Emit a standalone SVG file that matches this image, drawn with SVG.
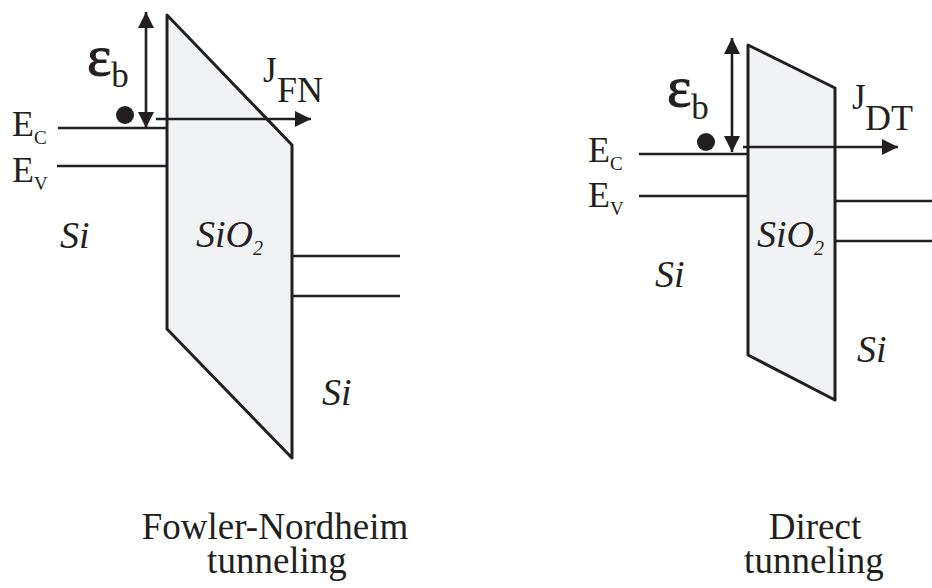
<svg xmlns="http://www.w3.org/2000/svg" width="932" height="588" viewBox="0 0 932 588">
<style>
.ox{fill:#f1f2f4;stroke:#231f20;stroke-width:3;stroke-linejoin:round}
.ln{stroke:#231f20;stroke-width:2.6;fill:none}
.t{font-family:"Liberation Serif","Times New Roman",serif;fill:#231f20}
.it{font-style:italic}
.eps{stroke:#231f20;stroke-width:1}
</style>
<defs>
<marker id="ah" viewBox="0 0 16 16" refX="16" refY="8" markerWidth="16" markerHeight="16" markerUnits="userSpaceOnUse" orient="auto-start-reverse">
<path d="M0,0 L16,8 L0,16 Z" fill="#231f20"/>
</marker>
</defs>
<g id="fn-diagram">
<g id="fn-oxide"><polygon class="ox" points="167,15 292,145 292,458 167,329"/></g>
<g id="fn-bands">
<line class="ln" x1="58" y1="128" x2="167" y2="128"/>
<line class="ln" x1="57" y1="166" x2="167" y2="166"/>
<line class="ln" x1="292" y1="256" x2="400" y2="256"/>
<line class="ln" x1="292" y1="296" x2="400" y2="296"/>
</g>
<g id="fn-electron"><circle cx="125" cy="115" r="9" fill="#231f20"/></g>
<g id="fn-labels">
<text class="t" x="12" y="136" font-size="36">E<tspan font-size="19" dy="8">C</tspan></text>
<text class="t" x="12" y="182" font-size="36">E<tspan font-size="19" dy="8">V</tspan></text>
<text class="t" x="87" y="75" font-size="58"><tspan class="eps">ε</tspan><tspan font-size="35" dy="12">b</tspan></text>
<text class="t" x="263" y="82" font-size="35">J</text>
<text class="t" x="277" y="102" font-size="36">FN</text>
<text class="t it" x="60" y="248" font-size="38">Si</text>
<text class="t it" x="196" y="247" font-size="38">SiO<tspan font-size="20" dy="8">2</tspan></text>
<text class="t it" x="322" y="405" font-size="38">Si</text>
<text class="t" font-size="37" text-anchor="middle"><tspan x="275" y="539">Fowler-Nordheim</tspan><tspan x="277" y="573">tunneling</tspan></text>
</g>
</g>
<g id="dt-diagram">
<g id="dt-oxide"><polygon class="ox" points="748,45 835,88 835,400 748,355"/></g>
<g id="dt-bands">
<line class="ln" x1="639" y1="154" x2="748" y2="154"/>
<line class="ln" x1="639" y1="196" x2="748" y2="196"/>
<line class="ln" x1="835" y1="201" x2="932" y2="201"/>
<line class="ln" x1="835" y1="241" x2="932" y2="241"/>
</g>
<g id="dt-electron"><circle cx="706" cy="142" r="9" fill="#231f20"/></g>
<g id="dt-labels">
<text class="t" x="588" y="162" font-size="36">E<tspan font-size="19" dy="8">C</tspan></text>
<text class="t" x="588" y="207" font-size="36">E<tspan font-size="19" dy="8">V</tspan></text>
<text class="t" x="667" y="106" font-size="58"><tspan class="eps">ε</tspan><tspan font-size="35" dy="13">b</tspan></text>
<text class="t" x="852" y="109" font-size="35">J</text>
<text class="t" x="865" y="130" font-size="36">DT</text>
<text class="t it" x="655" y="287" font-size="38">Si</text>
<text class="t it" x="757" y="247" font-size="38">SiO<tspan font-size="20" dy="8">2</tspan></text>
<text class="t it" x="857" y="362" font-size="38">Si</text>
<text class="t" font-size="37" text-anchor="middle"><tspan x="815" y="539">Direct</tspan><tspan x="814" y="573">tunneling</tspan></text>
</g>
</g>
<g id="connectors">
<line class="ln" x1="146" y1="12" x2="146" y2="128" marker-start="url(#ah)" marker-end="url(#ah)"/>
<line class="ln" x1="156" y1="119" x2="311" y2="119" marker-end="url(#ah)"/>
<line class="ln" x1="732" y1="38" x2="732" y2="152" marker-start="url(#ah)" marker-end="url(#ah)"/>
<line class="ln" x1="743" y1="147" x2="898" y2="147" marker-end="url(#ah)"/>
</g>
</svg>
